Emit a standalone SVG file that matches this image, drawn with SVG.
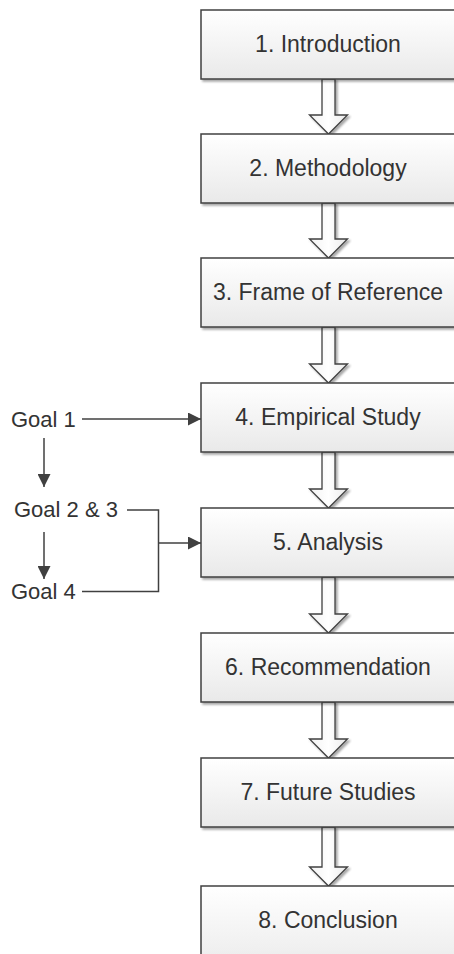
<svg xmlns="http://www.w3.org/2000/svg" width="454" height="954" viewBox="0 0 454 954">
  <defs>
    <linearGradient id="boxFill" x1="0" y1="0" x2="0" y2="1">
      <stop offset="0" stop-color="#ffffff"/>
      <stop offset="1" stop-color="#e9e9e9"/>
    </linearGradient>
    <linearGradient id="arrowFill" x1="0" y1="0" x2="1" y2="0">
      <stop offset="0" stop-color="#f2f2f2"/>
      <stop offset="0.5" stop-color="#ffffff"/>
      <stop offset="1" stop-color="#ebebeb"/>
    </linearGradient>
    <filter id="shadow" x="-5%" y="-10%" width="115%" height="130%">
      <feGaussianBlur in="SourceAlpha" stdDeviation="1.2"/>
      <feOffset dx="1.5" dy="2" result="b"/>
      <feComponentTransfer><feFuncA type="linear" slope="0.35"/></feComponentTransfer>
      <feMerge><feMergeNode/><feMergeNode in="SourceGraphic"/></feMerge>
    </filter>
    <marker id="head" markerWidth="13" markerHeight="13" viewBox="0 0 13 13" refX="13" refY="6.5" orient="auto" markerUnits="userSpaceOnUse">
      <path d="M0,0 L13,6.5 L0,13 Z" fill="#404040"/>
    </marker>
    <style>
      .box { fill: url(#boxFill); stroke: #404040; stroke-width: 1.5; filter: url(#shadow); }
      .label { font-family: "Liberation Sans", Arial, sans-serif; font-size: 23px; fill: #333333; text-anchor: middle; }
      .goal { font-family: "Liberation Sans", Arial, sans-serif; font-size: 22px; fill: #333333; }
      .block { fill: url(#arrowFill); stroke: #404040; stroke-width: 1.3; stroke-linejoin: miter; filter: url(#shadow); }
      .line { fill: none; stroke: #404040; stroke-width: 1.5; }
    </style>
  </defs>

  <!-- block arrows between stages -->
  <g id="connectors">
    <path class="block" d="M322,79 H335 V115 H347.5 L328.5,134 L309.5,115 H322 Z"/>
    <path class="block" d="M322,203 H335 V239 H347.5 L328.5,258 L309.5,239 H322 Z"/>
    <path class="block" d="M322,327 H335 V364 H347.5 L328.5,383 L309.5,364 H322 Z"/>
    <path class="block" d="M322,452 H335 V489 H347.5 L328.5,508 L309.5,489 H322 Z"/>
    <path class="block" d="M322,577 H335 V614 H347.5 L328.5,633 L309.5,614 H322 Z"/>
    <path class="block" d="M322,702 H335 V739 H347.5 L328.5,758 L309.5,739 H322 Z"/>
    <path class="block" d="M322,827 H335 V867 H347.5 L328.5,886 L309.5,867 H322 Z"/>

    <!-- goal connectors -->
    <line class="line" x1="82" y1="419" x2="201" y2="419" marker-end="url(#head)"/>
    <line class="line" x1="44" y1="438" x2="44" y2="487" marker-end="url(#head)"/>
    <line class="line" x1="44" y1="532" x2="44" y2="579" marker-end="url(#head)"/>
    <path class="line" d="M127,510 H158.5 V591.5 H82"/>
    <line class="line" x1="158.5" y1="543" x2="201" y2="543" marker-end="url(#head)"/>
  </g>

  <!-- stage boxes -->
  <g id="n1"><rect class="box" x="201" y="10" width="258" height="69"/><text class="label" x="328" y="52">1. Introduction</text></g>
  <g id="n2"><rect class="box" x="201" y="134" width="258" height="69"/><text class="label" x="328" y="176">2. Methodology</text></g>
  <g id="n3"><rect class="box" x="201" y="258" width="258" height="69"/><text class="label" x="328" y="300">3. Frame of Reference</text></g>
  <g id="n4"><rect class="box" x="201" y="383" width="258" height="69"/><text class="label" x="328" y="425">4. Empirical Study</text></g>
  <g id="n5"><rect class="box" x="201" y="508" width="258" height="69"/><text class="label" x="328" y="550">5. Analysis</text></g>
  <g id="n6"><rect class="box" x="201" y="633" width="258" height="69"/><text class="label" x="328" y="675">6. Recommendation</text></g>
  <g id="n7"><rect class="box" x="201" y="758" width="258" height="69"/><text class="label" x="328" y="800">7. Future Studies</text></g>
  <g id="n8"><rect class="box" x="201" y="886" width="258" height="90"/><text class="label" x="328" y="928">8. Conclusion</text></g>

  <!-- goals -->
  <g id="goal1"><text class="goal" x="11" y="427">Goal 1</text></g>
  <g id="goal23"><text class="goal" x="14" y="517">Goal 2 &amp; 3</text></g>
  <g id="goal4"><text class="goal" x="11" y="599">Goal 4</text></g>
</svg>
